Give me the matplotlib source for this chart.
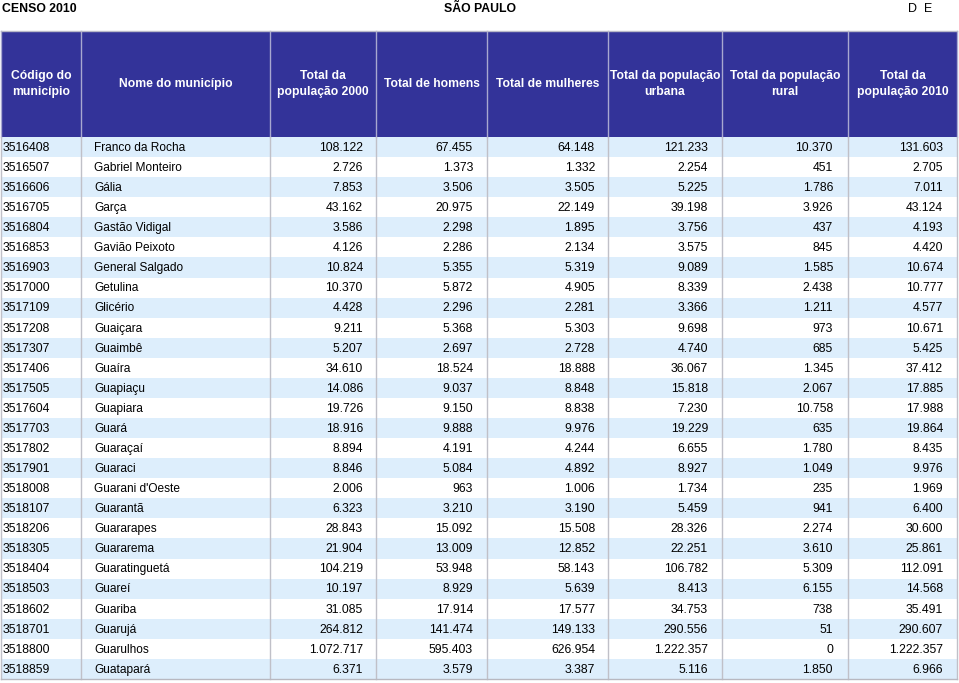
import matplotlib.pyplot as plt
from matplotlib.patches import Rectangle

plt.rcParams['font.family'] = ['Liberation Sans', 'DejaVu Sans']

codigos = ['3516408', '3516507', '3516606', '3516705', '3516804', '3516853', '3516903',
           '3517000', '3517109', '3517208', '3517307', '3517406', '3517505', '3517604',
           '3517703', '3517802', '3517901', '3518008', '3518107', '3518206', '3518305',
           '3518404', '3518503', '3518602', '3518701', '3518800', '3518859']
municipios = ['Franco da Rocha', 'Gabriel Monteiro', 'Gália', 'Garça', 'Gastão Vidigal',
              'Gavião Peixoto', 'General Salgado', 'Getulina', 'Glicério', 'Guaiçara',
              'Guaimbê', 'Guaíra', 'Guapiaçu', 'Guapiara', 'Guará', 'Guaraçaí', 'Guaraci',
              "Guarani d'Oeste", 'Guarantã', 'Guararapes', 'Guararema', 'Guaratinguetá',
              'Guareí', 'Guariba', 'Guarujá', 'Guarulhos', 'Guatapará']
pop2000 = [108122, 2726, 7853, 43162, 3586, 4126, 10824, 10370, 4428, 9211, 5207, 34610,
           14086, 19726, 18916, 8894, 8846, 2006, 6323, 28843, 21904, 104219, 10197, 31085,
           264812, 1072717, 6371]
homens = [67455, 1373, 3506, 20975, 2298, 2286, 5355, 5872, 2296, 5368, 2697, 18524, 9037,
          9150, 9888, 4191, 5084, 963, 3210, 15092, 13009, 53948, 8929, 17914, 141474,
          595403, 3579]
mulheres = [64148, 1332, 3505, 22149, 1895, 2134, 5319, 4905, 2281, 5303, 2728, 18888, 8848,
            8838, 9976, 4244, 4892, 1006, 3190, 15508, 12852, 58143, 5639, 17577, 149133,
            626954, 3387]
urbana = [121233, 2254, 5225, 39198, 3756, 3575, 9089, 8339, 3366, 9698, 4740, 36067, 15818,
          7230, 19229, 6655, 8927, 1734, 5459, 28326, 22251, 106782, 8413, 34753, 290556,
          1222357, 5116]
rural = [10370, 451, 1786, 3926, 437, 845, 1585, 2438, 1211, 973, 685, 1345, 2067, 10758,
         635, 1780, 1049, 235, 941, 2274, 3610, 5309, 6155, 738, 51, 0, 1850]
pop2010 = [131603, 2705, 7011, 43124, 4193, 4420, 10674, 10777, 4577, 10671, 5425, 37412,
           17885, 17988, 19864, 8435, 9976, 1969, 6400, 30600, 25861, 112091, 14568, 35491,
           290607, 1222357, 6966]

cabecalhos = ['Código do\nmunicípio', 'Nome do município', 'Total da\npopulação 2000',
              'Total de homens', 'Total de mulheres', 'Total da população\nurbana',
              'Total da população\nrural', 'Total da\npopulação 2010']


def fmt(v):
    return f'{v:,}'.replace(',', '.')


W, H = 959, 683
fig = plt.figure(figsize=(W / 100, H / 100), dpi=100)
ax = fig.add_axes([0, 0, 1, 1])
ax.set_xlim(0, W)
ax.set_ylim(H, 0)
ax.axis('off')

# layout (pixels)
edges = [1, 81, 270, 376, 487, 608, 722, 848, 957]
top_h, bot_h = 31, 137
row_h = (679 - bot_h) / len(codigos)
right_x = [363, 473, 595, 708, 833, 943]

ax.text(2, 9, 'CENSO 2010', fontsize=8.8, fontweight='bold', va='center', ha='left')
ax.text(480, 9, 'SÃO PAULO', fontsize=8.8, fontweight='bold', va='center', ha='center')
ax.text(908, 9, 'D  E', fontsize=9, va='center', ha='left')

# header
ax.add_patch(Rectangle((edges[0], top_h), edges[-1] - edges[0], bot_h - top_h,
                       facecolor='#333399', edgecolor='none'))
for i, lab in enumerate(cabecalhos):
    cx = (edges[i] + edges[i + 1]) / 2
    ax.text(cx, 84, lab, color='white', fontsize=8.7, fontweight='bold',
            ha='center', va='center', linespacing=1.45)

# body
cols = [pop2000, homens, mulheres, urbana, rural, pop2010]
for r in range(len(codigos)):
    y0 = bot_h + r * row_h
    if r % 2 == 0:
        ax.add_patch(Rectangle((edges[0], y0), edges[-1] - edges[0], row_h,
                               facecolor='#ddeefc', edgecolor='none'))
    yc = y0 + row_h / 2 + 0.8
    ax.text(3, yc, codigos[r], fontsize=8.8, ha='left', va='center')
    ax.text(94, yc, municipios[r], fontsize=8.6, ha='left', va='center')
    for c, vals in enumerate(cols):
        ax.text(right_x[c], yc, fmt(vals[r]), fontsize=8.8, ha='right', va='center')

# vertical separators
for i, x in enumerate(edges):
    ax.plot([x, x], [top_h, bot_h], color='#a8a8d0', lw=1)
    ax.plot([x, x], [bot_h, 679], color='#c0c0c8', lw=1)
ax.plot([edges[0], edges[-1]], [top_h, top_h], color='#b8b8c8', lw=1)
ax.plot([edges[0], edges[-1]], [679, 679], color='#b8b8c0', lw=1)

fig.savefig('out.png', dpi=100)
